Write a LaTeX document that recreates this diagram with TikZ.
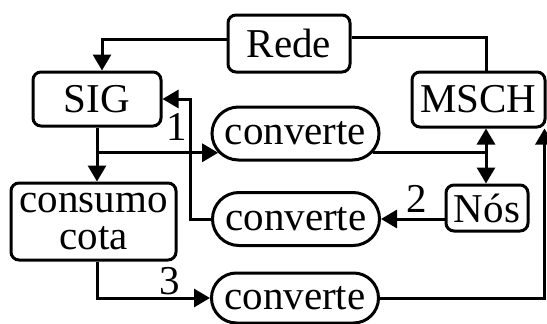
\documentclass[tikz,border=0pt]{standalone}
\usepackage{fontspec}
\setmainfont{Liberation Serif}
\usetikzlibrary{arrows.meta,shapes.misc}

\begin{document}
\begin{tikzpicture}[x=1pt, y=-1pt, line width=3pt,
		box/.style={draw, rounded corners=8pt, inner sep=0pt, font=\fontsize{41}{37}\selectfont},
		pill/.style={draw, rounded rectangle, inner sep=0pt, minimum width=167pt, minimum height=53pt, font=\fontsize{41}{37}\selectfont},
		num/.style={inner sep=0pt, font=\fontsize{41}{37}\selectfont},
		arr/.style={-{Triangle[length=16pt,width=18pt]}},
		dbl/.style={{Triangle[length=16pt,width=18pt]}-{Triangle[length=16pt,width=18pt]}}]
	\useasboundingbox (0,0) rectangle (547,324);
	% boxes
	\node[box, minimum width=122pt, minimum height=57pt] (rede) at (289,43.5) {Rede};
	\node[box, minimum width=128pt, minimum height=54pt] (sig) at (97,99) {SIG};
	\node[box, minimum width=133pt, minimum height=55pt] (msch) at (478.5,99.5) {MSCH};
	\node[box, minimum width=165pt, minimum height=77pt, align=center] (cons) at (93.5,221.5) {consumo\\cota};
	\node[box, minimum width=82pt, minimum height=46pt] (nos) at (487,208) {Nós};
	% converte
	\node[pill] (conv1) at (295.5,133.5) {converte};
	\node[pill] (conv2) at (296,219) {converte};
	\node[pill, minimum height=50pt] (conv3) at (295,298) {converte};
	% numbers
	\node[num] (l1) at (177,127) {1};
	\node[num] (l2) at (417,199) {2};
	\node[num] (l3) at (170,281) {3};
	% lines from Rede
	\draw[arr] ([yshift=4.5pt]rede.west) -| ([xshift=5pt]sig.north);
	\draw ([yshift=6.5pt]rede.east) -| ([xshift=7.5pt]msch.north);
	% SIG down and path 1
	\draw[arr] (sig.south) -- (sig.south |- cons.north);
	\draw[arr] (sig.south |- conv1.194) -- (conv1.194);
	\coordinate (mb) at ([xshift=7.5pt]msch.south);
	\draw (conv1.-14) -- (conv1.-14 -| mb);
	\draw[dbl] (mb) -- (mb |- nos.north);
	% path 2
	\draw[arr] (conv2.east -| nos.west) -- (conv2.east);
	\draw[arr] (conv2.west) -| ([xshift=28pt]sig.east) -- (sig.east);
	% path 3
	\draw[arr] ([xshift=3.5pt]cons.south) |- (conv3.west);
	\draw[arr] (conv3.east) -| ([xshift=-2pt]msch.south east);
\end{tikzpicture}
\end{document}
